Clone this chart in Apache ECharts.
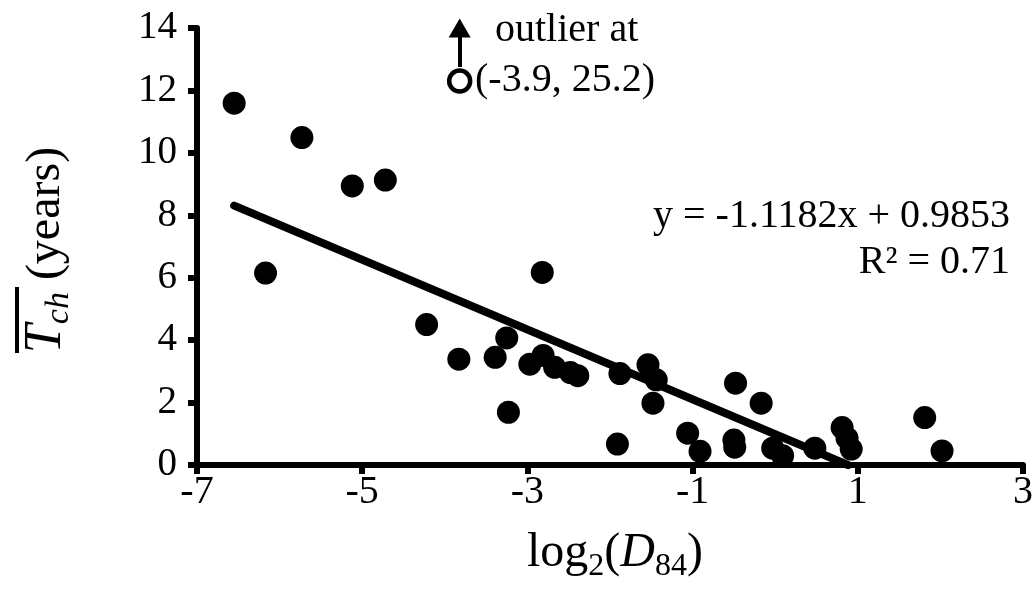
<!DOCTYPE html>
<html><head><meta charset="utf-8">
<script src="https://cdn.jsdelivr.net/npm/echarts@6/dist/echarts.min.js"></script>
<style>html,body{margin:0;padding:0;background:#fff}#c{width:1036px;height:597px}</style>
</head><body><div id="c"></div>
<script>
// ---- data ----
const xLog2D84 = [-6.55,-5.73,-5.12,-4.72,-6.17,-4.22,-3.83,-3.25,-3.39,-2.97,-2.81,-2.67,-2.48,-2.39,-3.23,-2.82,
  -1.88,-1.54,-1.44,-1.48,-1.91,-1.06,-0.91,-0.48,-0.50,-0.49,-0.17,-0.03,0.09,0.48,0.81,0.87,0.92,1.81,2.02];
const yTch = [11.59,10.49,8.94,9.13,6.15,4.50,3.39,4.07,3.45,3.23,3.51,3.13,2.96,2.86,1.69,6.17,
  2.93,3.21,2.73,1.98,0.67,1.02,0.44,2.62,0.80,0.57,1.98,0.54,0.30,0.54,1.20,0.86,0.51,1.52,0.45];
const trendSlope = -1.1182;
const trendIntercept = 0.9853;
const rSquared = 0.71;
const outlierValue = [-3.9, 25.2];
const outlierMarkerPos = [-3.82, 12.3];   // where the open circle is drawn (in axis units)
const outlierArrowEnd = 14.0;
const xAxisRange = {min: -7, max: 3, interval: 2};
const yAxisRange = {min: 0, max: 14, interval: 2};

const FONT = '"Liberation Serif", "Times New Roman", serif';
const points = xLog2D84.map((x, i) => [x, yTch[i]]);
const xMinData = Math.min(...xLog2D84);
const xZero = -trendIntercept / trendSlope;
const trendLine = [[xMinData, trendSlope * xMinData + trendIntercept], [xZero, trendSlope * xZero + trendIntercept]];

const chart = echarts.init(document.getElementById('c'), null, {renderer: 'canvas'});
const axisCommon = {
  type: 'value',
  axisLine: {show: true, onZero: false, lineStyle: {color: '#000', width: 6}},
  axisTick: {show: true, length: 9, lineStyle: {color: '#000', width: 6}},
  splitLine: {show: false},
};
chart.setOption({
  animation: false,
  backgroundColor: '#fff',
  textStyle: {fontFamily: FONT},
  grid: {left: 197, right: 7, top: 28, bottom: 132, containLabel: false},
  xAxis: Object.assign({}, axisCommon, {
    min: xAxisRange.min, max: xAxisRange.max, interval: xAxisRange.interval,
    axisLabel: {fontSize: 40, color: '#000', fontFamily: FONT, margin: 7}
  }),
  yAxis: Object.assign({}, axisCommon, {
    min: yAxisRange.min, max: yAxisRange.max, interval: yAxisRange.interval,
    axisLabel: {fontSize: 39, color: '#000', fontFamily: FONT, margin: 20}
  }),
  series: [
    {
      type: 'scatter', data: points, symbol: 'circle', symbolSize: 23,
      itemStyle: {color: '#000', opacity: 1}, z: 3
    },
    {
      type: 'line', data: trendLine, showSymbol: false, symbol: 'none',
      lineStyle: {color: '#000', width: 8, cap: 'round'}, z: 4, clip: false
    },
    {
      type: 'scatter', data: [outlierMarkerPos], symbol: 'circle', symbolSize: 21,
      itemStyle: {color: '#fff', borderColor: '#000', borderWidth: 4.5, opacity: 1}, z: 5,
      markLine: {
        silent: true, animation: false,
        symbol: ['none', 'triangle'], symbolSize: [22, 19],
        label: {show: false},
        lineStyle: {color: '#000', width: 4, type: 'solid'},
        data: [[{coord: [outlierMarkerPos[0], outlierMarkerPos[1] + 0.45]}, {coord: [outlierMarkerPos[0], outlierArrowEnd]}]]
      }
    }
  ],
  graphic: [
    {type: 'text', x: 1010, y: 216, style: {text: 'y = ' + trendSlope.toFixed(4) + 'x + ' + trendIntercept.toFixed(4), align: 'right', verticalAlign: 'middle', font: '40px ' + FONT, fill: '#000'}},
    {type: 'text', x: 1010, y: 262, style: {text: 'R² = ' + rSquared.toFixed(2), align: 'right', verticalAlign: 'middle', font: '40px ' + FONT, fill: '#000'}},
    {type: 'text', x: 495, y: 30, style: {text: 'outlier at', align: 'left', verticalAlign: 'middle', font: '40px ' + FONT, fill: '#000'}},
    {type: 'text', x: 475, y: 80, style: {text: '(' + outlierValue[0] + ', ' + outlierValue[1] + ')', align: 'left', verticalAlign: 'middle', font: '40px ' + FONT, fill: '#000'}},
    {type: 'text', x: 615, y: 553, style: {
      text: '{n|log}{s|2}{n|(}{i|D}{s|84}{n|)}', align: 'center', verticalAlign: 'middle',
      rich: {
        n: {fontSize: 48, fontFamily: FONT, lineHeight: 60, fill: '#000'},
        i: {fontSize: 48, fontFamily: FONT, fontStyle: 'italic', lineHeight: 60, fill: '#000'},
        s: {fontSize: 32, fontFamily: FONT, lineHeight: 12, verticalAlign: 'bottom', fill: '#000'}
      }
    }},
    {type: 'text', x: 46, y: 250, rotation: Math.PI / 2, style: {
      text: '{t|T}{s|ch}{n| (years)}', align: 'center', verticalAlign: 'middle',
      rich: {
        t: {fontSize: 52, fontFamily: FONT, fontStyle: 'italic', lineHeight: 60, fill: '#000'},
        s: {fontSize: 34, fontFamily: FONT, fontStyle: 'italic', lineHeight: 18, verticalAlign: 'bottom', fill: '#000'},
        n: {fontSize: 48, fontFamily: FONT, lineHeight: 60, fill: '#000'}
      }
    }},
    {type: 'rect', shape: {x: 15, y: 287, width: 4, height: 66}, style: {fill: '#000'}}
  ]
});
</script></body></html>
